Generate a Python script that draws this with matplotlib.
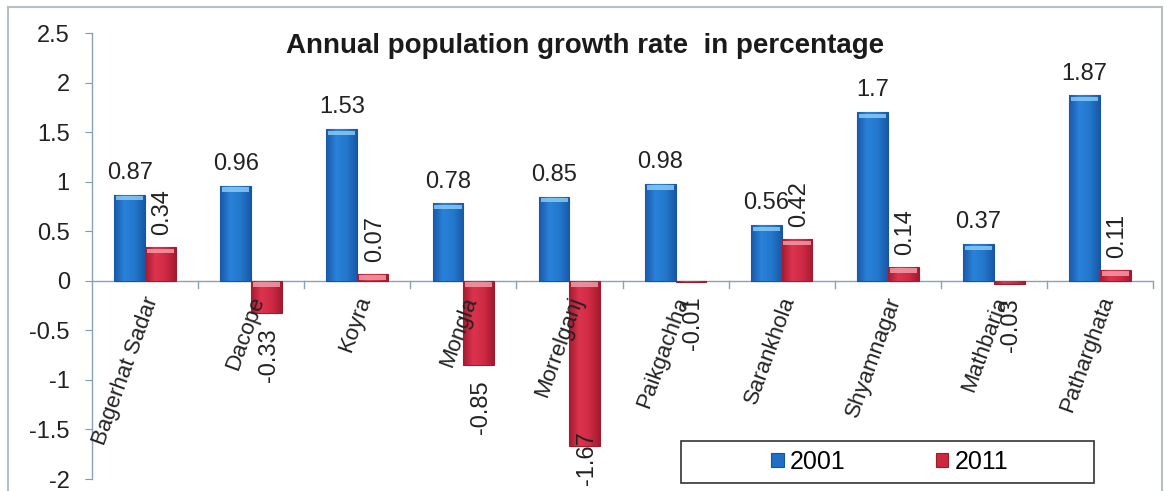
import matplotlib
matplotlib.use("Agg")
import matplotlib.pyplot as plt
import numpy as np
from matplotlib.patches import Rectangle
from matplotlib.colors import LinearSegmentedColormap

categories = ["Bagerhat Sadar", "Dacope", "Koyra", "Mongla", "Morrelganj",
              "Paikgachha", "Sarankhola", "Shyamnagar", "Mathbaria", "Patharghata"]
growth_2001 = [0.87, 0.96, 1.53, 0.78, 0.85, 0.98, 0.56, 1.70, 0.37, 1.87]
growth_2011 = [0.34, -0.33, 0.07, -0.85, -1.67, -0.01, 0.42, 0.14, -0.03, 0.11]
labels_2001 = ["0.87", "0.96", "1.53", "0.78", "0.85", "0.98", "0.56", "1.7", "0.37", "1.87"]
labels_2011 = ["0.34", "-0.33", "0.07", "-0.85", "-1.67", "-0.01", "0.42", "0.14", "-0.03", "0.11"]
series_names = ["2001", "2011"]
yticks = [-2, -1.5, -1, -0.5, 0, 0.5, 1, 1.5, 2, 2.5]
ytick_labels = ["-2", "-1.5", "-1", "-0.5", "0", "0.5", "1", "1.5", "2", "2.5"]
title = "Annual population growth rate  in percentage"

plt.rcParams['font.family'] = ['Liberation Sans', 'DejaVu Sans']

W, H = 1167, 491
fig = plt.figure(figsize=(W / 100, H / 100), dpi=100)
fig.patch.set_facecolor('white')
fig.add_artist(Rectangle((8 / W, -0.01), (1162 - 8) / W, (491 - 7) / H + 0.01,
                         transform=fig.transFigure, fill=False,
                         edgecolor='#b8bcc4', linewidth=1.5))

ax = fig.add_axes([92 / W, 12 / H, (1153 - 92) / W, (480 - 34) / H])
ax.set_facecolor('white')

x = np.arange(len(categories))
bw = 0.29
blue = '#1f6fc6'
red = '#cd2840'
b1 = ax.bar(x - bw / 2, growth_2001, bw, color=blue, edgecolor='#17549a',
            linewidth=0.8, label=series_names[0], zorder=3)
b2 = ax.bar(x + bw / 2, growth_2011, bw, color=red, edgecolor='#9c1c2c',
            linewidth=0.8, label=series_names[1], zorder=3)

cm_blue = LinearSegmentedColormap.from_list('b', ['#1a58a8', '#2a82da', '#2378cc', '#1a58a8'])
cm_red = LinearSegmentedColormap.from_list('r', ['#a51a30', '#dc344e', '#cf2a44', '#a51a30'])
grad = np.linspace(0, 1, 64).reshape(1, -1)

for bars, cm, hl in ((b1, cm_blue, '#8fd0f5'), (b2, cm_red, '#f3a3ae')):
    for r in bars:
        h = r.get_height()
        x0 = r.get_x()
        y0, y1 = sorted([0, h])
        if abs(h) > 0.001:
            im = ax.imshow(grad, cmap=cm, aspect='auto',
                           extent=(x0, x0 + bw, y0, y1), zorder=3.5,
                           interpolation='bicubic')
            im.set_clip_path(r)
        if abs(h) > 0.05:
            ax.add_patch(Rectangle((x0 + 0.06 * bw, (h - 0.06) if h > 0 else -0.06),
                                   bw * 0.88, 0.045, color=hl, alpha=0.8, zorder=4,
                                   linewidth=0))

ax.set_xlim(-0.5, len(categories) - 0.5)
ax.set_ylim(-2, 2.5)
ax.set_yticks(yticks)
ax.set_yticklabels(ytick_labels, fontsize=17, color='#222222')
ax.tick_params(axis='y', length=5, color='#7f98b0', pad=11)

for s in ('top', 'right', 'bottom'):
    ax.spines[s].set_visible(False)
ax.spines['left'].set_color('#8aa2b8')
ax.spines['left'].set_linewidth(1.0)
ax.axhline(0, color='#8aa2b8', linewidth=1.0, zorder=2)
ax.set_xticks([])
for b in np.arange(0.5, len(categories) - 0.5, 1.0).tolist() + [len(categories) - 0.5]:
    ax.plot([b, b], [0, -0.07], color='#8aa2b8', linewidth=1.0, zorder=2, clip_on=False)

# category labels
for i, c in enumerate(categories):
    ax.text(x[i] - 0.02, -0.13, c, rotation=70, ha='right', va='top',
            rotation_mode='anchor', fontsize=16, color='#222222', zorder=5)

# value labels
for i, v in enumerate(growth_2001):
    ax.text(x[i] - bw / 2, v + 0.11, labels_2001[i], ha='center', va='bottom',
            fontsize=17, color='#222222', zorder=5)
for i, v in enumerate(growth_2011):
    if v >= 0:
        ax.text(x[i] + bw / 2 + 0.02, v + 0.12, labels_2011[i], ha='center', va='bottom',
                rotation=90, fontsize=17, color='#222222', zorder=5)
    else:
        ypos = max(v - 0.15, -1.52)
        ax.text(x[i] + bw / 2 + 0.02, ypos, labels_2011[i], ha='center', va='top',
                rotation=90, fontsize=17, color='#222222', zorder=5, clip_on=False)

fig.text(585 / W, 1 - 46 / H, title, ha='center', va='center', fontsize=20,
         fontweight='bold', color='#1a1a1a')

# legend box
fig.add_artist(Rectangle((681 / W, 1 - 483 / H), (1094 - 681) / W, (483 - 441) / H,
                         transform=fig.transFigure, facecolor='white',
                         edgecolor='#333333', linewidth=1.2, zorder=9))
leg = fig.legend(handles=[b1, b2], labels=series_names, loc='center',
                 bbox_to_anchor=(890 / W, 1 - 462 / H), ncol=2, fontsize=18,
                 frameon=False, handlelength=0.5, handleheight=0.5,
                 handletextpad=0.25, columnspacing=3.6, borderpad=0.2,
                 borderaxespad=0)
leg.set_zorder(10)

fig.savefig('out.png', dpi=100, facecolor='white')
